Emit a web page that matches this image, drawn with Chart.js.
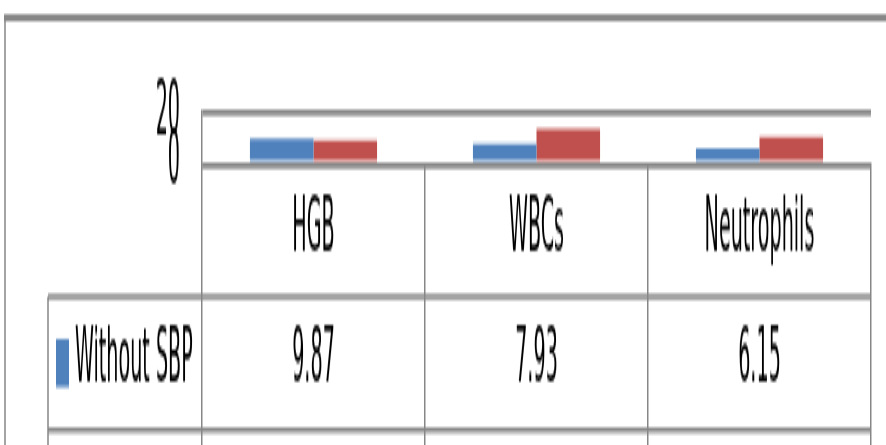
<!DOCTYPE html>
<html>
<head>
<meta charset="utf-8">
<script src="https://cdn.jsdelivr.net/npm/chart.js@4.4.1/dist/chart.umd.min.js"></script>
<style>
  html { overflow: hidden; }
  body { margin: 0; padding: 0; background: #fff; width: 886px; height: 445px; }
  /* the chart is drawn flat and stretched vertically, like the squashed original */
  #wrap { position: relative; width: 886px; height: 126px; transform: scaleY(3.5317); transform-origin: 0 0; }
</style>
</head>
<body>
<div id="wrap"><canvas id="chart"></canvas></div>
<script>
const categories = ['HGB', 'WBCs', 'Neutrophils'];
const seriesNames = ['Without SBP', 'With SBP'];
const withoutSbp = [9.87, 7.93, 6.15];
const withSbp = [9.2, 13.75, 10.7];
const yTicks = [0, 20];

const H = 126;
const S = 445 / H;
const LINE = '#878787';
const FONT = { family: "'Liberation Sans Narrow', 'DejaVu Sans Condensed', 'Liberation Sans', sans-serif", size: 21.3 };

const series = [
  { name: seriesNames[0], values: withoutSbp, color: '#4F81BD' },
  { name: seriesNames[1], values: withSbp, color: '#C0504D' }
];

// data table + outer frame, Excel style
const tablePlugin = {
  id: 'dataTable',
  afterDraw(chart) {
    const { ctx, chartArea, scales } = chart;
    const x = scales.x;
    const rowTop = 297 / S, rowBottom = 430 / S, rowH = rowBottom - rowTop;
    ctx.save();
    ctx.strokeStyle = LINE;

    ctx.lineWidth = 5.3 / S;
    ctx.beginPath();
    ctx.moveTo(48, rowTop); ctx.lineTo(chartArea.right, rowTop);
    ctx.moveTo(48, rowBottom); ctx.lineTo(chartArea.right, rowBottom);
    ctx.stroke();

    ctx.lineWidth = 1.5;
    ctx.beginPath();
    ctx.moveTo(48, rowTop); ctx.lineTo(48, chart.height);
    ctx.moveTo(5, 17.5 / S); ctx.lineTo(5, chart.height);
    ctx.stroke();

    ctx.lineWidth = 7 / S;
    ctx.beginPath();
    ctx.moveTo(4, 17.5 / S); ctx.lineTo(chart.width, 17.5 / S);
    ctx.stroke();

    ctx.font = `${FONT.size}px ${FONT.family}`;
    ctx.textBaseline = 'middle';
    series.forEach((s, i) => {
      const cy = rowTop + rowH * (i + 0.5);
      ctx.fillStyle = s.color;
      ctx.fillRect(56, cy - 24.5 / S, 13, 48 / S);
      ctx.fillStyle = '#000';
      ctx.textAlign = 'left';
      ctx.fillText(s.name, 75, cy);
      ctx.textAlign = 'center';
      s.values.forEach((v, j) => {
        ctx.fillText(v.toFixed(2), x.getPixelForValue(j), cy);
      });
    });
    ctx.restore();
  }
};

const xHeight = H - 164 / S;

new Chart(document.getElementById('chart'), {
  type: 'bar',
  data: {
    labels: categories,
    datasets: series.map(s => ({
      label: s.name,
      data: s.values,
      backgroundColor: s.color,
      borderWidth: 0,
      categoryPercentage: 0.57,
      barPercentage: 1
    }))
  },
  options: {
    responsive: true,
    maintainAspectRatio: false,
    animation: false,
    devicePixelRatio: 1,
    layout: { padding: { top: 113 / S, right: 15, left: 0, bottom: 0 } },
    plugins: { legend: { display: false }, tooltip: { enabled: false } },
    scales: {
      x: {
        grid: { drawOnChartArea: false, offset: true, tickLength: xHeight, lineWidth: 1.5, color: LINE },
        border: { display: false },
        ticks: { color: '#000', font: FONT, padding: 232 / S - 164 / S - FONT.size * 0.6 - xHeight },
        afterFit: s => { s.height = xHeight; s.paddingLeft = 0; s.paddingRight = 0; }
      },
      y: {
        min: 0,
        max: 20,
        afterBuildTicks: s => { s.ticks = yTicks.map(v => ({ value: v })); },
        grid: { drawTicks: false, lineWidth: 6 / S, color: LINE },
        border: { display: true, color: LINE, width: 1.5 },
        ticks: { color: '#000', font: FONT, padding: 22, autoSkip: false },
        afterFit: s => { s.width = 202; s.paddingTop = 0; s.paddingBottom = 0; }
      }
    }
  },
  plugins: [tablePlugin]
});
</script>
</body>
</html>
